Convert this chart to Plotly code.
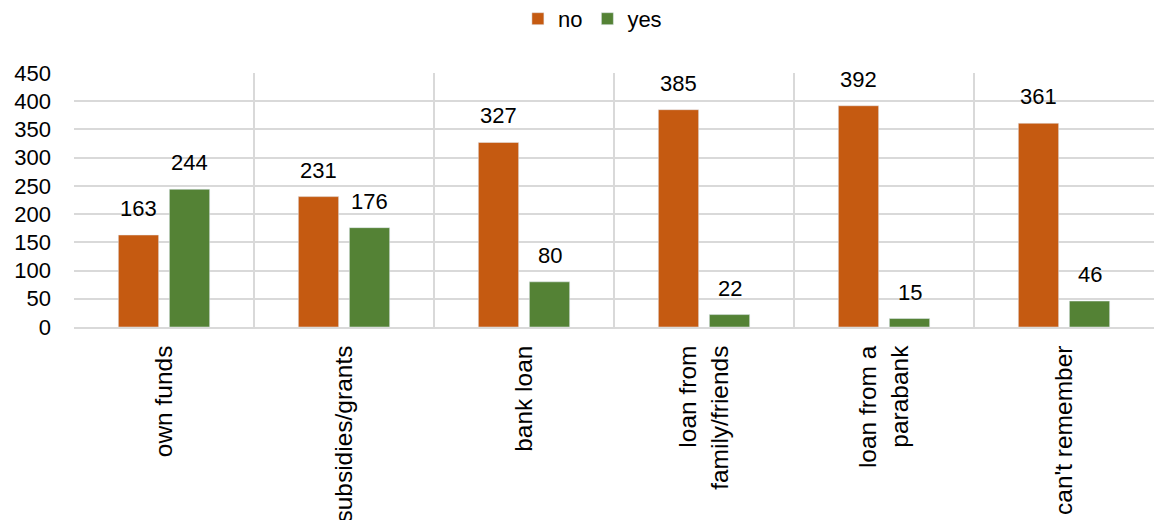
import plotly.graph_objects as go

categories = ["own funds", "subsidies/grants", "bank loan",
              "loan from<br>family/friends", "loan from a<br>parabank", "can't remember"]
no_values = [163, 231, 327, 385, 392, 361]
yes_values = [244, 176, 80, 22, 15, 46]
y_ticks = [0, 50, 100, 150, 200, 250, 300, 350, 400, 450]

FONT = "Liberation Sans, Arial, Helvetica, sans-serif"
ORANGE = "#C55A11"
GREEN = "#548235"
GRID = "#D9D9D9"

fig = go.Figure()
fig.add_trace(go.Bar(name="no", x=categories, y=no_values, marker_color=ORANGE))
fig.add_trace(go.Bar(name="yes", x=categories, y=yes_values, marker_color=GREEN))

annotations = []
for series, shift in ((no_values, -25.6), (yes_values, 25.6)):
    for c, v in zip(categories, series):
        annotations.append(dict(x=c, y=v, text=str(v), showarrow=False,
                                xshift=shift, yshift=12, yanchor="bottom",
                                font=dict(size=22, color="#000000", family=FONT)))

fig.update_layout(
    width=1154, height=520,
    margin=dict(l=74, r=0, t=73, b=193, autoexpand=False),
    paper_bgcolor="white", plot_bgcolor="white",
    barmode="group", bargap=0.433, bargroupgap=0.21,
    font=dict(family=FONT, size=22, color="#000000"),
    legend=dict(orientation="h", x=0.48, xanchor="center", y=1.213, yanchor="middle",
                yref="paper", font=dict(size=22), itemwidth=30),
    annotations=annotations,
    xaxis=dict(tickangle=-90, showgrid=True, gridcolor=GRID, gridwidth=1.5,
               tickson="boundaries", ticks="", showline=True, linecolor=GRID, linewidth=1.5,
               ticklabelstandoff=7, tickfont=dict(size=24.5), automargin=False),
    yaxis=dict(range=[0, 450], tickvals=y_ticks, showgrid=True, gridcolor=GRID, gridwidth=1.5,
               zeroline=False, showline=False, ticks="", ticklabelstandoff=22,
               tickfont=dict(size=22), automargin=False),
)

fig.write_html("out.html")
